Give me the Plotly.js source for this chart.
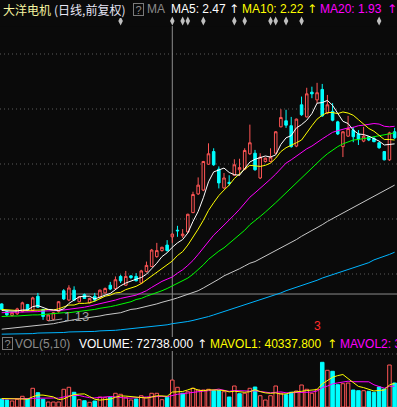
<!DOCTYPE html>
<html>
<head>
<meta charset="utf-8">
<script src="https://cdn.plot.ly/plotly-3.0.1.min.js"></script>
<style>
html,body{margin:0;padding:0;background:#0a0a0a;overflow:hidden;}
#chart{width:397px;height:407px;}
</style>
</head>
<body>
<div id="chart"></div>
<script>
// ---------------- data ----------------
const stockName = '大洋电机';
const periodLabel = '(日线,前复权)';

const openP = [1.44,1.30,1.23,1.26,1.30,1.43,1.32,1.58,1.34,1.14,
  1.16,1.30,1.68,1.51,1.69,1.48,1.61,1.46,1.58,1.55,
  1.64,1.78,1.72,1.94,1.78,1.95,1.94,1.82,2.03,2.12,
  2.30,2.41,2.51,2.66,2.78,2.68,2.75,3.10,3.44,3.51,
  3.98,4.21,3.89,3.55,3.65,3.78,3.88,3.89,4.17,4.18,
  3.73,4.03,4.03,4.18,4.66,4.77,4.68,4.31,5.06,4.84,
  5.29,5.15,5.34,4.91,4.94,4.75,4.30,4.49,4.60,4.53,
  4.40,4.48,4.45,4.37,4.21,4.06,4.57];
const highP = [1.45,1.31,1.29,1.37,1.48,1.44,1.57,1.64,1.35,1.25,
  1.29,1.49,1.71,1.78,1.76,1.58,1.63,1.55,1.64,1.70,
  1.74,1.84,1.94,1.97,2.04,1.96,2.00,2.06,2.21,2.44,
  2.55,2.48,2.60,2.72,2.86,2.80,3.08,3.48,3.74,4.04,
  4.36,4.27,3.94,3.82,3.78,4.07,4.08,4.27,4.70,4.24,
  4.18,4.10,4.27,4.58,4.98,4.97,4.84,4.81,5.21,5.37,
  5.39,5.46,5.44,5.24,5.09,4.77,4.58,4.86,4.66,4.60,
  4.66,4.49,4.48,4.38,4.22,4.57,4.64];
const lowP = [1.33,1.22,1.21,1.24,1.29,1.31,1.31,1.37,1.15,1.13,
  1.14,1.28,1.51,1.49,1.49,1.47,1.53,1.45,1.48,1.53,
  1.63,1.69,1.70,1.82,1.77,1.89,1.85,1.80,2.01,2.11,
  2.28,2.39,2.39,2.55,2.66,2.64,2.73,3.09,3.42,3.49,
  3.97,3.95,3.54,3.53,3.59,3.77,3.77,3.87,4.15,3.86,
  3.71,4.01,4.01,4.17,4.65,4.64,4.28,4.29,4.86,4.83,
  5.18,5.09,4.84,4.89,4.76,4.51,4.11,4.48,4.38,4.33,
  4.38,4.40,4.38,4.26,4.05,4.04,4.44];
const closeP = [1.34,1.24,1.28,1.35,1.46,1.32,1.55,1.38,1.21,1.24,
  1.28,1.48,1.53,1.73,1.51,1.57,1.54,1.54,1.51,1.69,
  1.72,1.71,1.88,1.86,1.94,1.92,1.86,2.04,2.14,2.42,
  2.41,2.47,2.41,2.71,2.77,2.71,3.07,3.43,3.60,4.03,
  4.17,3.97,3.64,3.73,3.63,3.97,3.92,4.23,4.37,3.88,
  4.11,4.09,4.11,4.57,4.83,4.69,4.30,4.80,4.88,5.26,
  5.26,5.28,4.86,5.06,4.78,4.53,4.57,4.63,4.48,4.44,
  4.49,4.42,4.39,4.28,4.06,4.55,4.46];

const volume = [21600,18900,16200,20800,28900,21600,50500,38600,20800,13500,
  13500,13500,47800,53200,39700,19700,17000,12700,16200,27000,
  25100,26200,37000,34300,25100,18900,21600,30500,25100,37000,
  37000,19700,26200,72738,53200,37000,41300,50500,45900,45900,
  47800,44000,44000,41300,27000,56700,35900,37000,50500,54000,
  30500,18900,30500,56700,37000,33200,39700,43200,59400,47800,
  37000,47800,120700,99100,96400,60200,62900,64800,45900,44000,
  44000,42400,39700,54000,48600,113400,64800];
// 1 = red (up) volume bar, 0 = cyan (down) volume bar
const volUp = [0,0,1,1,1,0,1,0,0,1, 1,1,1,1,0,1,0,1,0,1,
  1,0,1,1,1,1,0,1,1,1, 1,1,0,1,1,0,1,1,1,1,
  1,0,0,1,0,1,0,1,1,0, 1,1,1,1,1,0,0,1,1,1,
  1,1,0,1,0,0,1,1,0,0, 1,0,0,0,0,1,0];

const ma5 = [1.32,1.31,1.31,1.31,1.33,1.33,1.39,1.41,1.38,1.34,
  1.33,1.32,1.35,1.45,1.51,1.57,1.58,1.58,1.53,1.57,
  1.60,1.63,1.70,1.77,1.82,1.86,1.89,1.92,1.98,2.08,
  2.18,2.30,2.37,2.47,2.55,2.61,2.73,2.94,3.12,3.37,
  3.66,3.84,3.88,3.91,3.83,3.79,3.78,3.90,4.02,4.07,
  4.10,4.13,4.11,4.15,4.34,4.46,4.50,4.64,4.70,4.78,
  4.90,5.09,5.10,5.14,5.05,4.90,4.76,4.72,4.60,4.53,
  4.52,4.49,4.44,4.40,4.33,4.34,4.35];
const ma10 = [1.34,1.33,1.32,1.32,1.32,1.32,1.32,1.33,1.33,1.34,
  1.33,1.35,1.38,1.42,1.42,1.45,1.45,1.46,1.49,1.54,
  1.58,1.60,1.64,1.65,1.70,1.73,1.76,1.81,1.88,1.95,
  2.02,2.09,2.15,2.22,2.32,2.39,2.51,2.65,2.80,2.96,
  3.14,3.28,3.41,3.51,3.60,3.72,3.81,3.89,3.96,3.95,
  3.94,3.96,4.00,4.09,4.21,4.28,4.32,4.37,4.42,4.56,
  4.68,4.80,4.87,4.92,4.92,4.90,4.93,4.91,4.87,4.79,
  4.71,4.63,4.58,4.50,4.43,4.43,4.42];
const ma20 = [1.28,1.29,1.29,1.29,1.29,1.30,1.30,1.30,1.31,1.31,
  1.32,1.32,1.33,1.34,1.35,1.37,1.38,1.40,1.42,1.44,
  1.46,1.48,1.51,1.54,1.56,1.59,1.60,1.64,1.68,1.74,
  1.80,1.85,1.89,1.93,2.00,2.06,2.14,2.23,2.34,2.46,
  2.58,2.69,2.78,2.87,2.96,3.06,3.16,3.27,3.38,3.46,
  3.54,3.62,3.71,3.80,3.90,4.00,4.06,4.13,4.20,4.26,
  4.31,4.38,4.44,4.50,4.56,4.59,4.62,4.64,4.65,4.68,
  4.69,4.71,4.72,4.71,4.67,4.66,4.67];
const ma30 = [1.21,1.22,1.22,1.22,1.23,1.23,1.24,1.24,1.25,1.25,
  1.26,1.27,1.28,1.28,1.29,1.30,1.31,1.33,1.34,1.36,
  1.37,1.39,1.41,1.43,1.45,1.48,1.52,1.54,1.58,1.61,
  1.64,1.68,1.72,1.77,1.81,1.86,1.91,1.98,2.06,2.15,
  2.25,2.33,2.40,2.46,2.54,2.62,2.70,2.78,2.88,2.95,
  3.03,3.11,3.19,3.28,3.37,3.46,3.55,3.64,3.73,3.82,
  3.92,4.01,4.09,4.17,4.24,4.30,4.35,4.39,4.42,4.43,
  4.44,4.46,4.48,4.50,4.52,4.54,4.55];
const ma60 = [0.98,0.99,1.00,1.01,1.02,1.02,1.03,1.04,1.05,1.07,
  1.08,1.10,1.12,1.14,1.15,1.17,1.18,1.19,1.21,1.22,
  1.24,1.25,1.26,1.28,1.31,1.34,1.35,1.37,1.39,1.42,
  1.44,1.47,1.49,1.52,1.55,1.58,1.61,1.65,1.68,1.73,
  1.78,1.84,1.89,1.95,1.99,2.04,2.08,2.13,2.18,2.21,
  2.26,2.30,2.35,2.40,2.45,2.50,2.56,2.61,2.67,2.72,
  2.78,2.83,2.88,2.94,2.99,3.04,3.09,3.14,3.19,3.24,
  3.29,3.34,3.39,3.44,3.49,3.54,3.60];
const ma120 = [0.89,0.89,0.89,0.89,0.90,0.90,0.90,0.91,0.91,0.91,
  0.92,0.92,0.92,0.93,0.93,0.93,0.94,0.94,0.94,0.95,
  0.95,0.96,0.96,0.97,0.98,0.98,0.99,1.00,1.01,1.03,
  1.04,1.05,1.06,1.08,1.09,1.10,1.12,1.14,1.16,1.18,
  1.21,1.24,1.27,1.30,1.33,1.36,1.39,1.42,1.45,1.48,
  1.51,1.54,1.58,1.61,1.64,1.68,1.71,1.74,1.77,1.81,
  1.84,1.87,1.91,1.94,1.97,2.01,2.04,2.07,2.10,2.13,
  2.16,2.19,2.24,2.27,2.31,2.34,2.38];

const mavol5 = [22950,22410,21600,21330,21330,21330,27540,32130,32130,28890,
  27270,19980,21870,28350,33480,34830,35370,28350,21060,18630,
  19710,21330,26190,29970,29430,28350,27270,26190,24300,26730,
  30240,29970,28890,40337.8,41850,41850,46170,51030,45630,44010,
  46170,46710,45630,44550,40770,42660,41040,39690,41310,46710,
  41580,38070,36990,38070,34830,35370,39420,41850,42390,44550,
  45360,46980,62640,70470,80190,84780,87750,76680,66150,55620,
  52380,48330,43200,44820,45630,59670,63990];
const mavol10 = [21600,21600,21600,21600,22140,22680,23220,23760,24570,25110,
  24300,23760,27000,30240,31320,31050,27810,25110,24570,25920,
  27270,28350,27270,25380,24030,24030,24300,26190,27000,28080,
  29160,28620,27540,31320,34290,35910,38070,39960,42120,42930,
  44010,46440,48330,45090,42390,44550,44010,42660,42930,43740,
  42120,39690,38340,39690,40770,38340,38880,39420,40230,39690,
  40230,43200,52380,56430,62370,65070,67500,69660,68310,67770,
  68580,68040,59940,55350,50760,55890,56160];

const cursorIdx = 33;       // candle under the cross-hair
const cursorPrice = 1.62;   // level of the horizontal cross-hair line
const lowIdx = 9;           // candle with the lowest low
const eventIdx = [23,33,35,36,39,45,47,52,53,55,58,73];
const signalIdx = 61;       // red signal mark under the chart
const signalText = '3';

// ---------------- drawing ----------------
const W = 397, H = 407;
const BG = '#0a0a0a', RED = '#ff5555', CYAN = '#00ffff';
const idx = openP.map((_, i) => i);

const traces = [];
traces.push({
  type: 'candlestick', x: idx, open: openP, high: highP, low: lowP, close: closeP,
  xaxis: 'x', yaxis: 'y', whiskerwidth: 0, hoverinfo: 'skip', showlegend: false,
  increasing: {line: {color: RED, width: 1}, fillcolor: BG},
  decreasing: {line: {color: CYAN, width: 1}, fillcolor: CYAN}
});
function line(arr, color, axis) {
  return {type: 'scatter', mode: 'lines', x: idx, y: arr, xaxis: 'x', yaxis: axis,
    line: {color: color, width: 1}, hoverinfo: 'skip', showlegend: false};
}
traces.push(line(ma120, '#00b4ff', 'y'));
traces.push(line(ma60, '#c8c8c8', 'y'));
traces.push(line(ma30, '#00ff00', 'y'));
traces.push(line(ma20, '#ff00ff', 'y'));
traces.push(line(ma10, '#ffff00', 'y'));
traces.push(line(ma5, '#ffffff', 'y'));

traces.push({
  type: 'bar', x: idx, y: volume, xaxis: 'x', yaxis: 'y2', width: 0.68,
  marker: {color: volUp.map(u => u ? BG : CYAN),
           line: {color: volUp.map(u => u ? RED : CYAN), width: 1}},
  hoverinfo: 'skip', showlegend: false
});
traces.push(line(mavol10, '#ff00ff', 'y2'));
traces.push(line(mavol5, '#ffff00', 'y2'));

traces.push({
  type: 'scatter', mode: 'markers', x: eventIdx, y: eventIdx.map(() => 0.5),
  xaxis: 'x', yaxis: 'y3', hoverinfo: 'skip', showlegend: false,
  marker: {symbol: 'diamond-tall', size: 6.5, color: '#c0c0c0'}
});

const py = v => 1 - v / H;
const shapes = [];
[54, 109, 164, 219, 274, 354].forEach(y => shapes.push({
  type: 'line', xref: 'paper', yref: 'paper', x0: 0, x1: 1, y0: py(y), y1: py(y),
  line: {color: '#5a5a5a', width: 1, dash: '1px,3px'}, layer: 'below'
}));
shapes.push({type: 'line', xref: 'x', yref: 'paper', x0: cursorIdx, x1: cursorIdx,
  y0: 0, y1: py(17), line: {color: '#8c8c8c', width: 1}, layer: 'below'});
shapes.push({type: 'line', xref: 'paper', yref: 'y', x0: 0, x1: 1,
  y0: cursorPrice, y1: cursorPrice, line: {color: '#8c8c8c', width: 1}, layer: 'below'});

const LAT = 'Liberation Sans, Arial, sans-serif';
const CJK = 'Noto Sans CJK SC, sans-serif';
function txt(text, x, y, color, fam, extra) {
  return Object.assign({text: text, x: x / W, y: py(y), xref: 'paper', yref: 'paper',
    xanchor: 'left', yanchor: 'middle', showarrow: false, borderpad: 0, borderwidth: 0,
    bgcolor: BG, font: {family: fam || LAT, size: 12, color: color}}, extra || {});
}
function qbox(cx, cy) {
  return {text: '?', x: cx / W, y: py(cy), xref: 'paper', yref: 'paper',
    xanchor: 'center', yanchor: 'middle', showarrow: false, width: 9, height: 11,
    borderpad: 0, borderwidth: 1, bordercolor: '#7a7a7a', bgcolor: BG,
    font: {family: LAT, size: 11, color: '#8a8a8a'}};
}
const ARW = 'DejaVu Sans, sans-serif';
const f2 = v => v.toFixed(2), f3 = v => v.toFixed(3);
const annotations = [
  txt(stockName, 3, 9, '#f5f5a0', CJK),
  txt(periodLabel, 54, 9, '#e6e6f5', CJK),
  qbox(138, 9),
  txt('MA', 146.5, 9, '#8a8a8a'),
  txt('MA5: ' + f2(ma5[cursorIdx]), 171, 9, '#ffffff'),
  txt('↑', 229, 9, '#ffffff', ARW),
  txt('MA10: ' + f2(ma10[cursorIdx]), 242, 9, '#ffff00'),
  txt('↑', 307, 9, '#ffff00', ARW),
  txt('MA20: ' + f2(ma20[cursorIdx]), 319.5, 9, '#ff00ff'),
  txt('↑', 386.5, 9, '#ff00ff', ARW),
  qbox(7.2, 343.5),
  txt('VOL(5,10)', 14.5, 344, '#8a8a8a'),
  txt('VOLUME: ' + f3(volume[cursorIdx]), 78.5, 344, '#ffffff'),
  txt('↑', 197, 344, '#ffffff', ARW),
  txt('MAVOL1: ' + f3(mavol5[cursorIdx]), 210, 344, '#ffff00'),
  txt('↑', 326.5, 344, '#ffff00', ARW),
  txt('MAVOL2: ' + f3(mavol10[cursorIdx]), 339.5, 344, '#ff00ff'),
  {x: lowIdx, y: lowP[lowIdx], xref: 'x', yref: 'y', text: f2(lowP[lowIdx]),
   showarrow: true, arrowhead: 0, arrowwidth: 1, arrowcolor: '#a0a0a0',
   ax: 28, ay: -4, standoff: 0, font: {family: LAT, size: 13, color: '#a0a0a0'}},
  {x: signalIdx, y: py(326), xref: 'x', yref: 'paper', text: signalText,
   xanchor: 'center', yanchor: 'middle', showarrow: false,
   font: {family: LAT, size: 12, color: '#ff2a2a'}}
];

const axNone = {showgrid: false, zeroline: false, showticklabels: false, showline: false,
  ticks: '', fixedrange: true};
const layout = {
  width: W, height: H, margin: {l: 0, r: 0, t: 0, b: 0},
  paper_bgcolor: BG, plot_bgcolor: BG, showlegend: false, hovermode: false, dragmode: false,
  xaxis: Object.assign({range: [-0.329, 76.46], rangeslider: {visible: false}}, axNone),
  yaxis: Object.assign({domain: [0.1745, 1], range: [0.857, 6.966], anchor: 'x'}, axNone),
  yaxis2: Object.assign({domain: [0, 0.1253], range: [0, 137700], anchor: 'x'}, axNone),
  yaxis3: Object.assign({domain: [0.936, 0.961], range: [0, 1], anchor: 'x'}, axNone),
  shapes: shapes, annotations: annotations
};
Plotly.newPlot('chart', traces, layout, {staticPlot: true, displayModeBar: false});
</script>
</body>
</html>
